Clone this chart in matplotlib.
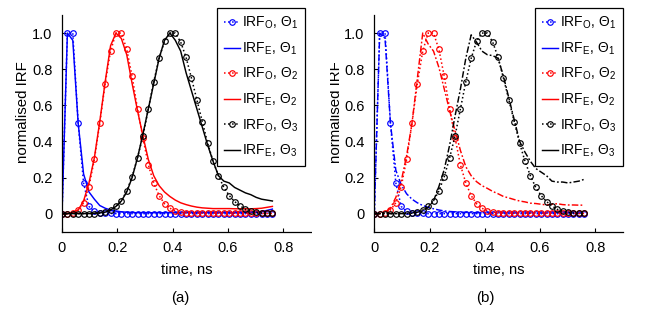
import matplotlib
matplotlib.use("Agg")
import matplotlib.pyplot as plt
from matplotlib.patches import Rectangle

plt.rcParams['font.family'] = ['Liberation Sans', 'DejaVu Sans']
plt.rcParams['mathtext.fontset'] = 'custom'
plt.rcParams['mathtext.rm'] = 'Liberation Sans'
plt.rcParams['mathtext.it'] = 'Liberation Sans:italic'

# ---- data ----
time_ns = [0.0, 0.0195, 0.039, 0.0585, 0.078, 0.0975, 0.117, 0.1365, 0.156, 0.1755,
           0.195, 0.2145, 0.234, 0.2535, 0.273, 0.2925, 0.312, 0.3315, 0.351, 0.3705,
           0.39, 0.4095, 0.429, 0.4485, 0.468, 0.4875, 0.507, 0.5265, 0.546, 0.5655,
           0.585, 0.6045, 0.624, 0.6435, 0.663, 0.6825, 0.702, 0.7215, 0.741, 0.7605]

irf_o_1 = [0.0, 1.0, 1.0, 0.50, 0.17, 0.04, 0.012, 0.005, 0.002, 0.001,
           0.0, 0.0, 0.0, 0.0, 0.0, 0.0, 0.0, 0.0, 0.0, 0.0,
           0.0, 0.0, 0.0, 0.0, 0.0, 0.0, 0.0, 0.0, 0.0, 0.0,
           0.0, 0.0, 0.0, 0.0, 0.0, 0.0, 0.0, 0.0, 0.0, 0.0]
irf_o_2 = [0.0, 0.0, 0.005, 0.02, 0.06, 0.15, 0.30, 0.50, 0.72, 0.90,
           1.0, 1.0, 0.91, 0.76, 0.58, 0.42, 0.27, 0.17, 0.10, 0.055,
           0.03, 0.015, 0.008, 0.005, 0.004, 0.003, 0.003, 0.003, 0.003, 0.003,
           0.003, 0.003, 0.002, 0.002, 0.002, 0.002, 0.002, 0.001, 0.001, 0.001]
irf_o_3 = [0.0, 0.0, 0.0, 0.0, 0.0, 0.0, 0.0, 0.002, 0.008, 0.02,
           0.04, 0.072, 0.125, 0.205, 0.31, 0.43, 0.58, 0.73, 0.86, 0.955,
           1.0, 1.0, 0.95, 0.865, 0.75, 0.63, 0.51, 0.39, 0.29, 0.21,
           0.145, 0.10, 0.067, 0.043, 0.024, 0.013, 0.007, 0.004, 0.002, 0.001]

# panel (a) estimates
irf_e_1_a = [0.0, 1.0, 0.96, 0.50, 0.22, 0.12, 0.08, 0.045, 0.03, 0.02,
             0.015, 0.01, 0.008, 0.006, 0.005, 0.005, 0.005, 0.005, 0.005, 0.005,
             0.005, 0.005, 0.005, 0.005, 0.005, 0.005, 0.005, 0.005, 0.005, 0.005,
             0.005, 0.005, 0.005, 0.005, 0.006, 0.007, 0.008, 0.012, 0.018, 0.025]
irf_e_2_a = [0.0, 0.0, 0.005, 0.02, 0.07, 0.17, 0.31, 0.51, 0.73, 0.93,
             1.0, 0.97, 0.88, 0.72, 0.57, 0.43, 0.30, 0.21, 0.155, 0.12,
             0.095, 0.075, 0.06, 0.05, 0.042, 0.036, 0.032, 0.03, 0.028, 0.028,
             0.028, 0.028, 0.027, 0.027, 0.027, 0.027, 0.028, 0.03, 0.035, 0.04]
irf_e_3_a = [0.0, 0.0, 0.0, 0.0, 0.0, 0.0, 0.002, 0.004, 0.008, 0.02,
             0.04, 0.07, 0.12, 0.20, 0.31, 0.44, 0.58, 0.72, 0.86, 0.96,
             1.0, 0.96, 0.90, 0.78, 0.68, 0.58, 0.48, 0.38, 0.29, 0.21,
             0.18, 0.17, 0.145, 0.13, 0.115, 0.105, 0.09, 0.08, 0.075, 0.07]

# panel (b) estimates
irf_e_1_b = [0.0, 1.0, 0.97, 0.50, 0.24, 0.16, 0.11, 0.08, 0.06, 0.045,
             0.035, 0.027, 0.02, 0.015, 0.012, 0.01, 0.008, 0.007, 0.006, 0.005,
             0.005, 0.005, 0.004, 0.004, 0.004, 0.004, 0.004, 0.004, 0.004, 0.004,
             0.004, 0.004, 0.004, 0.004, 0.004, 0.004, 0.004, 0.004, 0.004, 0.004]
irf_e_2_b = [0.0, 0.0, 0.005, 0.03, 0.09, 0.18, 0.32, 0.50, 0.75, 1.0,
             0.94, 0.90, 0.81, 0.69, 0.57, 0.46, 0.35, 0.26, 0.21, 0.177,
             0.155, 0.14, 0.123, 0.11, 0.095, 0.087, 0.078, 0.07, 0.065, 0.058,
             0.056, 0.052, 0.048, 0.052, 0.055, 0.05, 0.048, 0.048, 0.047, 0.047]
irf_e_3_b = [0.0, 0.0, 0.0, 0.0, 0.0, 0.0, 0.002, 0.004, 0.008, 0.015,
             0.035, 0.07, 0.15, 0.245, 0.38, 0.54, 0.69, 0.86, 0.99, 0.95,
             0.90, 0.88, 0.875, 0.86, 0.76, 0.64, 0.52, 0.40, 0.34, 0.29,
             0.25, 0.23, 0.21, 0.18, 0.175, 0.175, 0.17, 0.175, 0.18, 0.19]

colors = ['#0000ff', '#ff0000', '#000000']
obs_labels = ['IRF$_\\mathrm{O}$, \u0398$_1$', 'IRF$_\\mathrm{O}$, \u0398$_2$', 'IRF$_\\mathrm{O}$, \u0398$_3$']
est_labels = ['IRF$_\\mathrm{E}$, \u0398$_1$', 'IRF$_\\mathrm{E}$, \u0398$_2$', 'IRF$_\\mathrm{E}$, \u0398$_3$']
xticks = [0, 0.2, 0.4, 0.6, 0.8]
xticklabels = ['0', '0.2', '0.4', '0.6', '0.8']
yticks = [0, 0.2, 0.4, 0.6, 0.8, 1.0]
yticklabels = ['0', '0.2', '0.4', '0.6', '0.8', '1.0']

W, H = 654, 312
fig = plt.figure(figsize=(W / 100, H / 100), dpi=100)

def make_axes(left_px, right_px):
    top_px, bottom_px = 15, 231.7
    return fig.add_axes([left_px / W, 1 - bottom_px / H,
                         (right_px - left_px) / W, (bottom_px - top_px) / H])

axA = make_axes(62, 311)
axB = make_axes(374.3, 622.7)

obs = [irf_o_1, irf_o_2, irf_o_3]
estA = [irf_e_1_a, irf_e_2_a, irf_e_3_a]
estB = [irf_e_1_b, irf_e_2_b, irf_e_3_b]

dashdot = (0, (4.5, 1.5, 1.2, 1.5))

for ax, est, est_ls, legend_right in [(axA, estA, '-', 305), (axB, estB, dashdot, 623)]:
    for i in range(3):
        ax.plot(time_ns, obs[i], linestyle=':', color=colors[i], lw=1.1,
                marker='o', markersize=4.0, markerfacecolor='none',
                markeredgewidth=0.85, label=obs_labels[i])
        ax.plot(time_ns, est[i], linestyle=est_ls, color=colors[i], lw=1.05,
                label=est_labels[i])
    ax.set_xlim(0, 0.9)
    ax.set_ylim(-0.1, 1.1)
    ax.set_xticks(xticks)
    ax.set_xticklabels(xticklabels)
    ax.set_yticks(yticks)
    ax.set_yticklabels(yticklabels)
    ax.tick_params(direction='in', length=3, width=0.8, labelsize=10.5, pad=7)
    for s in ['top', 'right']:
        ax.spines[s].set_visible(False)
    for s in ['left', 'bottom']:
        ax.spines[s].set_linewidth(0.9)
    ax.set_xlabel('time, ns', fontsize=10.5)
    ax.set_ylabel('normalised IRF', fontsize=10.8)
    ax.yaxis.set_label_coords(-0.128, 0.554)
    ax.xaxis.set_label_coords(0.5, -0.145)
    leg = ax.legend(loc='upper right',
                    bbox_to_anchor=(legend_right / W, 1 - 8 / H),
                    bbox_transform=fig.transFigure,
                    fontsize=10.0, numpoints=1, handlelength=1.2,
                    handletextpad=0.13, labelspacing=0.66,
                    borderpad=0.5, borderaxespad=0.0,
                    fancybox=False, framealpha=1.0, edgecolor='black')
    leg.get_frame().set_linewidth(0.9)
    for line in leg.get_lines():
        if line.get_marker() in (None, 'None', ''):
            line.set_linestyle('-')

# the right panel's y label is cut at the panel's left edge in the original
fig.patches.append(Rectangle((312 / W, 0), (329.5 - 312) / W, 1, transform=fig.transFigure,
                             facecolor='white', edgecolor='none', zorder=10))

fig.text(180 / W, 1 - 298 / H, '(a)', ha='center', va='center', fontsize=10.8)
fig.text(485 / W, 1 - 298 / H, '(b)', ha='center', va='center', fontsize=10.8)

fig.savefig('out.png', dpi=100)
